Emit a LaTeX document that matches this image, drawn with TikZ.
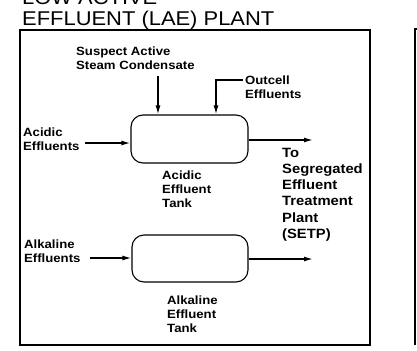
\documentclass[tikz,border=0pt]{standalone}
\usepackage{fontspec}
\setmainfont{Liberation Sans}[FakeStretch=1.1]
\usetikzlibrary{arrows.meta}

\begin{document}
\begin{tikzpicture}[x=1bp, y=-1bp,
    tank/.style={draw, line width=1.1bp, rounded corners=12bp, minimum width=117bp, minimum height=48bp},
    lbl/.style={anchor=north west, inner sep=0pt, align=left, font=\fontsize{12}{14}\selectfont\bfseries},
    heading/.style={anchor=base west, inner sep=0pt, font=\fontsize{20}{21}\selectfont},
    flow/.style={line width=1.4bp, -{Latex[length=9bp,width=5bp]}}]
            \useasboundingbox (0,0) rectangle (417,351);
            % Title (first line cut by the page edge)
            \node[heading] (title1) at (22,4) {LOW ACTIVE};
            \node[heading] (title2) at (22,25) {EFFLUENT (LAE) PLANT};
            
            % Frames
            \draw[line width=1.3bp] (20,30) rectangle (370,345);
            \draw[line width=1.3bp] (425,29) -| (415,345);
            
            % Tanks
            \node[tank] (acid) at (189.5,139) {};
            \node[tank, minimum width=116bp, minimum height=47bp] (alk) at (190,258.5) {};
            
            % Labels
            \node[lbl] (susplbl) at (76,47) {Suspect Active\\Steam Condensate};
            \node[lbl] (outclbl) at (245,76) {Outcell\\Effluents};
            \node[lbl] (acidlbl) at (23,128) {Acidic\\Effluents};
            \node[lbl] (acidname) at (162,171) {Acidic\\Effluent\\Tank};
            \node[lbl, font=\fontsize{13.5}{16.2}\selectfont\bfseries] (setp) at (282,148) {To\\Segregated\\Effluent\\Treatment\\Plant\\(SETP)};
            \node[lbl] (alklbl) at (24,240) {Alkaline\\Effluents};
            \node[lbl] (alkname) at (167,296) {Alkaline\\Effluent\\Tank};
            
            % Flows
            \coordinate (suspin) at (158,76);
            \coordinate (outcin) at (243,80);
            \coordinate (outck) at (216,80);
            \coordinate (acidin) at (85,143);
            \coordinate (alkin) at (90,258);
            \coordinate (acidout) at (313,140);
            \coordinate (alkout) at (313,259);
            
            \draw[flow] (suspin) -- (suspin |- acid.north);
            \draw[flow] (outcin) -- (outck) -- (outck |- acid.north);
            \draw[flow] (acidin) -- (acidin -| acid.west);
            \draw[flow] (alkin) -- (alkin -| alk.west);
            \draw[flow] (acid.east |- acidout) -- (acidout);
            \draw[flow] (alk.east |- alkout) -- (alkout);
        \end{tikzpicture}
\end{document}
